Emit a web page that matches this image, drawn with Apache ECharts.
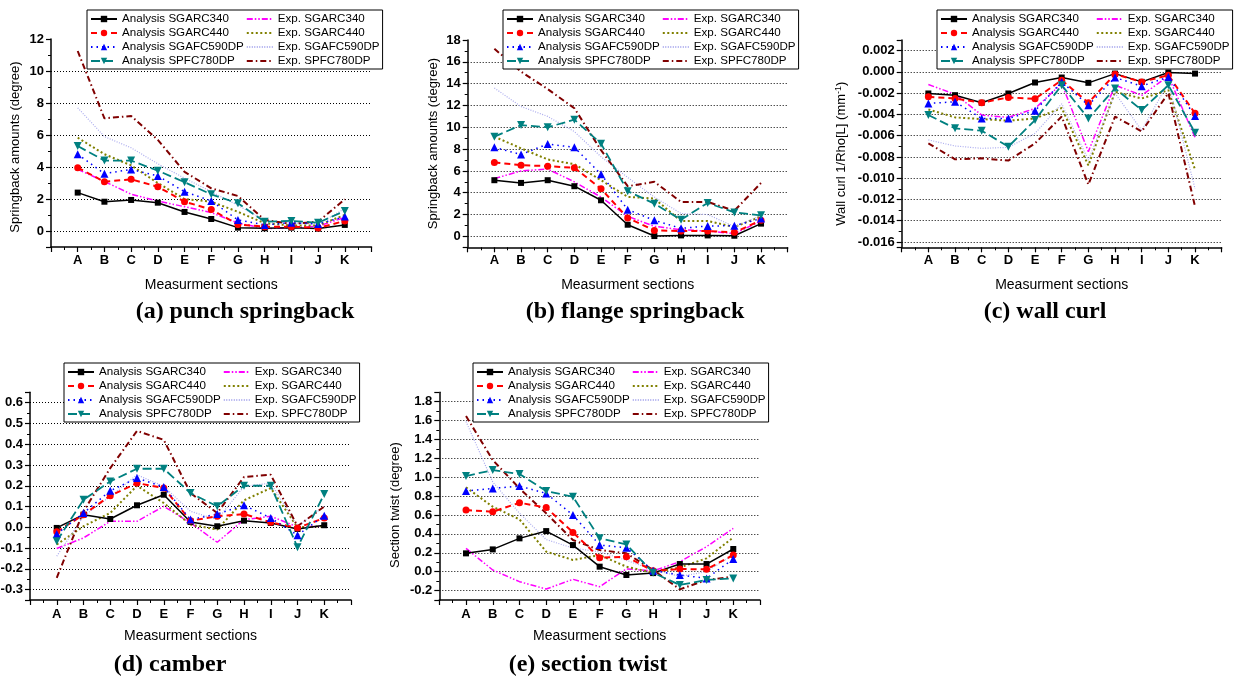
<!DOCTYPE html>
<html lang="en">
<head>
<meta charset="UTF-8">
<title>Springback results</title>
<script src="https://cdn.jsdelivr.net/npm/echarts@6/dist/echarts.min.js"></script>
<style>
  html, body { margin: 0; padding: 0; background: #fff; }
  #chart { width: 1237px; height: 678px; }
</style>
</head>
<body>
<div id="chart"></div>
<script>
// measurement sections on the x axis
const sections = ['A', 'B', 'C', 'D', 'E', 'F', 'G', 'H', 'I', 'J', 'K'];

const seriesNames = [
    'Analysis SGARC340', 'Analysis SGARC440', 'Analysis SGAFC590DP', 'Analysis SPFC780DP',
    'Exp. SGARC340', 'Exp. SGARC440', 'Exp. SGAFC590DP', 'Exp. SPFC780DP'
];

// one row per series (same order as seriesNames), one value per section A..K
const punchSpringback = [
    [2.40, 1.83, 1.94, 1.77, 1.19, 0.75, 0.21, 0.17, 0.21, 0.15, 0.38],
    [3.96, 3.08, 3.23, 2.77, 1.83, 1.35, 0.40, 0.27, 0.27, 0.19, 0.63],
    [4.80, 3.58, 3.85, 3.44, 2.46, 1.88, 0.69, 0.38, 0.52, 0.44, 0.90],
    [5.31, 4.40, 4.40, 3.77, 3.05, 2.29, 1.73, 0.58, 0.63, 0.52, 1.25],
    [3.85, 3.10, 2.30, 1.87, 1.52, 1.15, 0.50, 0.15, 0.20, 0.30, 0.85],
    [5.83, 4.80, 4.10, 3.00, 2.00, 1.83, 1.20, 0.48, 0.35, 0.35, 1.00],
    [7.70, 5.90, 5.20, 4.20, 3.30, 2.46, 1.60, 0.65, 0.48, 0.44, 1.40],
    [11.25, 7.04, 7.19, 5.69, 3.70, 2.67, 2.19, 0.69, 0.44, 0.58, 1.98]
];

const flangeSpringback = [
    [5.15, 4.90, 5.15, 4.60, 3.31, 1.07, 0.03, 0.09, 0.09, 0.06, 1.17],
    [6.78, 6.53, 6.44, 6.29, 4.36, 1.69, 0.55, 0.49, 0.49, 0.37, 1.47],
    [8.16, 7.50, 8.47, 8.16, 5.70, 2.45, 1.47, 0.74, 0.95, 0.98, 1.63],
    [9.14, 10.20, 10.00, 10.70, 8.50, 4.14, 3.00, 1.53, 3.07, 2.20, 1.93],
    [5.30, 6.00, 6.17, 5.00, 3.60, 1.84, 0.92, 0.61, 0.49, 0.25, 1.41],
    [9.14, 8.07, 7.05, 6.62, 5.15, 3.62, 3.47, 1.41, 1.41, 0.86, 1.84],
    [13.60, 11.90, 11.00, 9.60, 7.30, 5.40, 3.60, 2.10, 2.00, 0.90, 1.90],
    [17.20, 15.10, 13.50, 11.75, 7.90, 4.60, 5.00, 3.16, 3.16, 2.35, 4.90]
];

const wallCurl = [
    [-0.00203, -0.00219, -0.00290, -0.00203, -0.00100, -0.00053, -0.00103, -0.00016, -0.00094, -0.00006, -0.00016],
    [-0.00234, -0.00250, -0.00290, -0.00240, -0.00253, -0.00078, -0.00290, -0.00022, -0.00094, -0.00031, -0.00390],
    [-0.00297, -0.00281, -0.00438, -0.00438, -0.00366, -0.00094, -0.00313, -0.00053, -0.00134, -0.00047, -0.00416],
    [-0.00406, -0.00531, -0.00553, -0.00703, -0.00453, -0.00125, -0.00438, -0.00156, -0.00359, -0.00125, -0.00572],
    [-0.00119, -0.00210, -0.00406, -0.00428, -0.00344, -0.00110, -0.00750, -0.00125, -0.00220, -0.00041, -0.00616],
    [-0.00353, -0.00428, -0.00444, -0.00459, -0.00438, -0.00340, -0.00880, -0.00188, -0.00250, -0.00172, -0.00920],
    [-0.00640, -0.00697, -0.00719, -0.00710, -0.00578, -0.00300, -0.00830, -0.00200, -0.00550, -0.00100, -0.01100],
    [-0.00672, -0.00822, -0.00813, -0.00834, -0.00672, -0.00420, -0.01060, -0.00420, -0.00560, -0.00200, -0.01266]
];

const camber = [
    [-0.003, 0.061, 0.040, 0.106, 0.157, 0.026, 0.005, 0.032, 0.021, -0.008, 0.010],
    [-0.022, 0.061, 0.152, 0.213, 0.189, 0.032, 0.053, 0.064, 0.024, -0.003, 0.045],
    [-0.032, 0.069, 0.176, 0.237, 0.194, 0.037, 0.064, 0.106, 0.045, -0.038, 0.056],
    [-0.067, 0.133, 0.221, 0.282, 0.282, 0.165, 0.101, 0.200, 0.200, -0.096, 0.160],
    [-0.102, -0.051, 0.029, 0.029, 0.101, 0.021, -0.072, 0.037, 0.053, 0.002, 0.005],
    [-0.083, 0.005, 0.069, 0.200, 0.117, 0.013, -0.011, 0.130, 0.189, 0.000, 0.005],
    [-0.139, 0.053, 0.149, 0.253, 0.197, 0.077, 0.037, 0.197, 0.213, 0.005, 0.100],
    [-0.243, 0.077, 0.285, 0.464, 0.421, 0.165, 0.069, 0.242, 0.253, 0.005, 0.100]
];

const sectionTwist = [
    [0.194, 0.236, 0.353, 0.430, 0.282, 0.053, -0.035, -0.015, 0.081, 0.081, 0.240],
    [0.653, 0.635, 0.730, 0.680, 0.416, 0.148, 0.159, 0.009, 0.028, 0.025, 0.176],
    [0.854, 0.882, 0.907, 0.829, 0.600, 0.282, 0.254, 0.011, -0.035, -0.071, 0.134],
    [1.013, 1.076, 1.034, 0.854, 0.794, 0.353, 0.289, -0.011, -0.141, -0.088, -0.071],
    [0.247, 0.018, -0.106, -0.184, -0.081, -0.159, 0.030, 0.007, 0.106, 0.265, 0.459],
    [0.893, 0.688, 0.554, 0.212, 0.124, 0.176, 0.053, -0.011, 0.045, 0.141, 0.363],
    [1.590, 0.950, 0.620, 0.340, 0.250, 0.210, 0.120, 0.020, -0.050, 0.000, 0.180],
    [1.648, 1.182, 0.882, 0.618, 0.335, 0.230, 0.194, 0.018, -0.187, -0.088, -0.053]
];

const downTriangle = 'path://M0,0 L10,0 L5,9 Z';

// line and marker look of each series
const seriesStyles = [
    { color: '#000000', dash: 'solid', width: 1.5, symbol: 'rect', size: 6 },
    { color: '#ff0000', dash: [6, 4], width: 2, symbol: 'circle', size: 7 },
    { color: '#0000ff', dash: [1.5, 4], width: 1.5, symbol: 'triangle', size: 8 },
    { color: '#008080', dash: [9, 4], width: 1.8, symbol: downTriangle, size: 8 },
    { color: '#ff00ff', dash: [6, 2, 1.5, 2, 1.5, 2], width: 1.5, symbol: 'none', size: 0 },
    { color: '#808000', dash: [2, 2.5], width: 2, symbol: 'none', size: 0 },
    { color: '#aaaaee', dash: [1, 1.5], width: 1.2, symbol: 'none', size: 0 },
    { color: '#800000', dash: [6, 3, 1.5, 3], width: 2, symbol: 'none', size: 0 }
];

const sansFont = '"Liberation Sans", Arial, sans-serif';
const serifFont = '"Liberation Serif", "Times New Roman", serif';

const panels = [
    {
        rows: punchSpringback, caption: '(a) punch springback', capX: 245, capY: 312,
        grid: { left: 51, top: 39, width: 320.5, height: 208 },
        yMin: -1, yMax: 12, split: 6, step: 2, digits: 0,
        yName: 'Springback amounts (degree)', yNameGap: 29, yNamePad: [0, 8, 0, 0],
        legend: { left: 87, top: 10 }, xLabelMargin: 7, xNameGap: 31
    },
    {
        rows: flangeSpringback, caption: '(b) flange springback', capX: 635, capY: 312,
        grid: { left: 467.7, top: 40, width: 320, height: 207.3 },
        yMin: -1, yMax: 18, split: 9, step: 2, digits: 0,
        yName: 'Springback amounts (degree)', yNameGap: 28, yNamePad: [0, 0, 0, 0],
        legend: { left: 503, top: 10 }, xLabelMargin: 7, xNameGap: 31
    },
    {
        rows: wallCurl, caption: '(c) wall curl', capX: 1045, capY: 312,
        grid: { left: 901.7, top: 40, width: 320, height: 207.3 },
        yMin: -0.0165, yMax: 0.003, split: 10, step: 0.002, digits: 3,
        yName: 'Wall curl 1/Rho[L] (mm{sup|-1})', yNameGap: 52, yNamePad: [0, 20, 0, 0],
        legend: { left: 937, top: 10 }, xLabelMargin: 7, xNameGap: 31
    },
    {
        rows: camber, caption: '(d) camber', capX: 170, capY: 665,
        grid: { left: 30, top: 392.3, width: 321, height: 207.7 },
        yMin: -0.35, yMax: 0.65, split: 10, step: 0.1, digits: 1,
        yName: '', yNameGap: 30, yNamePad: [0, 0, 0, 0],
        legend: { left: 64, top: 363 }, xLabelMargin: 8, xNameGap: 29
    },
    {
        rows: sectionTwist, caption: '(e) section twist', capX: 588, capY: 665,
        grid: { left: 439.3, top: 392.3, width: 320.7, height: 207.7 },
        yMin: -0.3, yMax: 1.9, split: 11, step: 0.2, digits: 1,
        yName: 'Section twist (degree)', yNameGap: 37, yNamePad: [0, 18, 0, 0],
        legend: { left: 473, top: 363 }, xLabelMargin: 8, xNameGap: 29
    }
];

const axisLineStyle = { color: '#000', width: 1.5 };

const option = {
    animation: false,
    backgroundColor: '#fff',
    grid: panels.map(p => Object.assign({ outerBoundsMode: 'none', containLabel: false }, p.grid)),
    xAxis: panels.map((p, i) => ({
        type: 'value', gridIndex: i, min: 0, max: 12, interval: 1,
        name: 'Measurment sections', nameLocation: 'middle', nameGap: p.xNameGap,
        nameMoveOverlap: false,
        nameTextStyle: { fontFamily: sansFont, fontSize: 14, color: '#000' },
        axisLine: { show: true, onZero: false, lineStyle: axisLineStyle },
        axisTick: { show: true, inside: false, length: 5, lineStyle: { color: '#000', width: 1.2 } },
        minorTick: { show: true, splitNumber: 2, length: 3, lineStyle: { color: '#000', width: 1 } },
        splitLine: { show: false },
        axisLabel: {
            margin: p.xLabelMargin, fontFamily: sansFont, fontWeight: 'bold', fontSize: 13, color: '#000',
            formatter: v => sections[v - 1] || ''
        }
    })),
    yAxis: panels.map((p, i) => ({
        type: 'value', gridIndex: i, min: p.yMin, max: p.yMax, splitNumber: p.split,
        name: p.yName, nameLocation: 'middle', nameGap: p.yNameGap, nameMoveOverlap: false,
        nameTextStyle: {
            fontFamily: sansFont, fontSize: 13, color: '#000', padding: p.yNamePad,
            rich: { sup: { fontFamily: sansFont, fontSize: 9, color: '#000', padding: [0, 0, 7, 0] } }
        },
        axisLine: { show: true, onZero: false, lineStyle: axisLineStyle },
        axisTick: { show: true, inside: false, length: 5, lineStyle: { color: '#000', width: 1.2 } },
        minorTick: { show: true, splitNumber: 2, length: 3, lineStyle: { color: '#000', width: 1 } },
        splitLine: {
            show: true, showMinLine: false, showMaxLine: false,
            lineStyle: { color: '#000', width: 1, type: [1, 2] }
        },
        axisLabel: {
            margin: 7, fontFamily: sansFont, fontWeight: 'bold', fontSize: 13, color: '#000',
            formatter: v => {
                const r = v / p.step;
                return Math.abs(r - Math.round(r)) < 1e-6 ? v.toFixed(p.digits) : '';
            }
        }
    })),
    legend: panels.map(p => ({
        left: p.legend.left, top: p.legend.top, height: 56,
        orient: 'vertical', itemGap: 2, itemWidth: 26, itemHeight: 8,
        padding: [3, 3, 2, 3],
        borderColor: '#000', borderWidth: 1, backgroundColor: '#fff',
        selectedMode: false,
        textStyle: { fontFamily: sansFont, fontSize: 11.6, color: '#000' },
        data: seriesNames.map((n, k) => k < 4 ? n : { name: n, itemStyle: { opacity: 0 } })
    })),
    graphic: panels.map(p => ({
        type: 'text', x: p.capX, y: p.capY,
        style: {
            text: p.caption, font: 'bold 24px ' + serifFont, fill: '#000',
            align: 'center', verticalAlign: 'middle'
        }
    })),
    series: []
};

panels.forEach((p, i) => {
    p.rows.forEach((row, k) => {
        const s = seriesStyles[k];
        option.series.push({
            type: 'line', name: seriesNames[k], xAxisIndex: i, yAxisIndex: i,
            data: row.map((v, j) => [j + 1, v]),
            symbol: s.symbol, symbolSize: s.size, showSymbol: s.symbol !== 'none',
            z: k < 4 ? 3 : 2,
            lineStyle: { color: s.color, width: s.width, type: s.dash },
            itemStyle: { color: s.color },
            emphasis: { disabled: true }
        });
    });
});

const chart = echarts.init(document.getElementById('chart'));
chart.setOption(option);
</script>
</body>
</html>
